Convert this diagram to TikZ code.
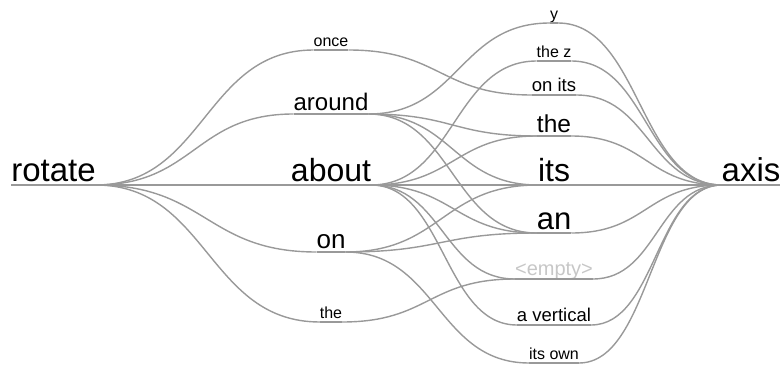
\documentclass[tikz,border=0pt]{standalone}
\usepackage{fontspec}
\setmainfont{Liberation Sans}
\usetikzlibrary{calc}
\tikzset{
  word/.style={inner xsep=0pt, inner ysep=3.5pt, outer sep=0pt, text depth=0pt,
    anchor=south, font=\fontsize{#1pt}{#1pt}\selectfont},
  link/.style={draw=black!40, line width=1.4pt},
  faint/.style={text=black!22}
}
\newcommand\wline[1]{\draw[link] (#1.south west) -- (#1.south east);}
\newcommand\wlink[2]{\draw[link] let \p1=(#1.south east), \p2=(#2.south west) in
  (\p1) .. controls ({(\x1+\x2)/2},\y1) and ({(\x1+\x2)/2},\y2) .. (\p2);}
\begin{document}
\begin{tikzpicture}[x=1pt,y=-1pt]
\useasboundingbox (0,0) rectangle (783,366);
% column 1
\node[word=33] (rotate) at (53.5,185) {rotate};
% column 2
\node[word=16] (once) at (331,50) {once};
\node[word=24] (around) at (331,114) {around};
\node[word=32] (about) at (331,185) {about};
\node[word=26] (on) at (331,252) {on};
\node[word=16] (theA) at (331,322) {the};
% column 3
\node[word=16] (y) at (554,23) {y};
\node[word=16] (thez) at (554,61) {the z};
\node[word=18.5] (onits) at (554,95) {on its};
\node[word=24.5] (theB) at (554,136) {the};
\node[word=32] (its) at (554,185) {its};
\node[word=31] (an) at (554,233) {an};
\node[word=20,faint] (empty) at (554,279) {<empty>};
\node[word=18.5] (avert) at (554,325) {a vertical};
\node[word=16] (itsown) at (554,363) {its own};
% column 4
\node[word=33] (axis) at (751,185) {axis};
% underlines
\foreach \n in {rotate,once,around,about,on,theA,y,thez,onits,theB,its,an,empty,avert,itsown,axis}{\wline{\n}}
% links
\foreach \t in {once,around,about,on,theA}{\wlink{rotate}{\t}}
\wlink{once}{onits}
\foreach \t in {y,theB,its,an}{\wlink{around}{\t}}
\foreach \t in {thez,theB,its,an,empty,avert}{\wlink{about}{\t}}
\foreach \t in {its,an,itsown}{\wlink{on}{\t}}
\wlink{theA}{empty}
\foreach \s in {y,thez,onits,theB,its,an,empty,avert,itsown}{\wlink{\s}{axis}}
\end{tikzpicture}
\end{document}
